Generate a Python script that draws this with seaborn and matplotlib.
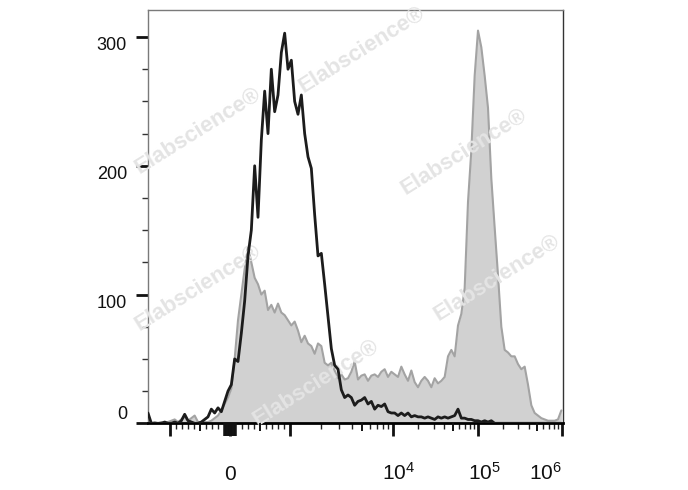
import numpy as np
import matplotlib
matplotlib.use("Agg")
import matplotlib.pyplot as plt
import seaborn as sns
import pandas as pd
from matplotlib.ticker import MultipleLocator
from matplotlib.transforms import ScaledTranslation

# ---------------- data (counts per display channel) ----------------
black_counts = [8, 0, 0, 0, 0, 1, 0, 0, 1, 0, 2, 7, 2, 1, 0, 0, 1, 3, 5, 11,
                8, 12, 9, 17, 25, 30, 50, 48, 70, 95, 130, 150, 200, 160, 220, 258, 225, 275, 242, 255,
                288, 303, 275, 282, 250, 240, 255, 225, 207, 198, 162, 130, 132, 108, 83, 58, 45, 42, 26, 20,
                22, 20, 14, 17, 18, 20, 15, 17, 11, 14, 13, 15, 9, 8, 8, 6, 8, 6, 8, 5,
                6, 5, 5, 4, 5, 4, 3, 5, 4, 5, 4, 5, 6, 11, 4, 4, 3, 3, 2, 2,
                1, 2, 1, 2, 0, 0, 0, 0, 0, 0, 0, 0, 0, 0, 0, 0, 0, 0, 0, 0,
                0, 0, 0, 0, 0]
grey_counts = [1, 0, 1, 0, 1, 0, 1, 2, 3, 1, 3, 5, 2, 4, 6, 1, 1, 1, 1, 2,
               4, 6, 10, 15, 20, 27, 50, 80, 100, 120, 137, 125, 113, 108, 100, 103, 88, 92, 86, 93,
               86, 84, 80, 76, 79, 72, 63, 68, 62, 60, 54, 62, 60, 47, 45, 47, 41, 35, 38, 34,
               35, 40, 48, 34, 37, 38, 33, 37, 38, 36, 40, 42, 36, 40, 38, 36, 44, 38, 33, 41,
               32, 28, 33, 36, 33, 28, 35, 31, 33, 36, 52, 57, 52, 76, 85, 105, 172, 212, 270, 305,
               292, 270, 245, 190, 152, 115, 75, 57, 55, 52, 52, 46, 42, 44, 30, 14, 8, 6, 4, 3,
               2, 2, 2, 3, 10]

x_major_values = [-1000, 0, 1000, 1e4, 1e5, 1e6]
x_major_labels = ["", "0", "", r"$\mathregular{10^{4}}$", r"$\mathregular{10^{5}}$", r"$\mathregular{10^{6}}$"]
x_medium_values = [-500, 500, 5e3, 5e4, 5e5]
x_cluster_values = [-100, -90, -80, -70, -60, -50, -40, -30, -20, -10,
                    10, 20, 30, 40, 50, 60, 70, 80, 90, 100]
x_minor_values = ([-m * 100 for m in (2, 3, 4, 6, 7, 8, 9)] + [m * 100 for m in (2, 3, 4, 6, 7, 8, 9)]
                  + [m * 10 ** e for e in (3, 4, 5) for m in (2, 3, 4, 6, 7, 8, 9)])
y_major_values = [0, 100, 200, 300]
y_major_labels = ["0", "100", "200", "300"]
watermark_text = "Elabscience®"

# ---------------- biexponential-like display scale ----------------
LIN_LIM = 1000.0
LIN_W = 60.35
DEC_L = [3, 4, 5, 6, 7]
DEC_P = [60.35, 162.7, 248.3, 331.7, 415.1]


def fwd(v):
    v = np.asarray(v, dtype=float)
    a = np.abs(v)
    lg = np.log10(np.maximum(a, LIN_LIM))
    return np.where(a <= LIN_LIM, v * LIN_W / LIN_LIM, np.sign(v) * np.interp(lg, DEC_L, DEC_P))


def inv(p):
    p = np.asarray(p, dtype=float)
    a = np.abs(p)
    return np.where(a <= LIN_W, p * LIN_LIM / LIN_W, np.sign(p) * 10 ** np.interp(a, DEC_P, DEC_L))


# display channels, equally spaced in display space
n = len(black_counts)
channels = -82 + np.arange(n) * (10.0 / 3.0)
x_vals = inv(channels)
df = pd.DataFrame({"x": x_vals, "black": black_counts, "grey": grey_counts})

# ---------------- figure ----------------
sns.set_theme(style="ticks")
plt.rcParams["font.family"] = ["Liberation Sans", "DejaVu Sans"]
plt.rcParams["mathtext.fontset"] = "custom"
plt.rcParams["mathtext.rm"] = "Liberation Sans"

fig = plt.figure(figsize=(6.88, 4.9), dpi=100)
ax = fig.add_axes([148 / 688, 1 - 423.3 / 490, 415 / 688, 413.3 / 490])
ax.set_xscale("function", functions=(fwd, inv))
xlim = (float(inv(-82)), float(inv(333)))
ax.set_xlim(*xlim)
ax.set_ylim(0, 321)

ax.fill_between(df["x"], df["grey"], color="#d1d1d1", lw=0, zorder=1)
sns.lineplot(data=df, x="x", y="grey", color="#a3a3a3", lw=1.5, estimator=None, ax=ax, zorder=2)
sns.lineplot(data=df, x="x", y="black", color="#1c1c1c", lw=2.0, estimator=None, ax=ax, zorder=4)
ax.set_xlabel("")
ax.set_ylabel("")

# watermarks
wm_pos = [(0.120, 0.707), (0.516, 0.903), (0.761, 0.656), (0.120, 0.327), (0.841, 0.351), (0.405, 0.097)]
for (wx, wy) in wm_pos:
    ax.text(wx, wy, watermark_text, transform=ax.transAxes, rotation=32, ha="center", va="center",
            fontsize=16, fontweight="bold", color="#e4e4e4", zorder=3, clip_on=False)

# spines
for s, c, w in (("left", "#7a7a7a", 1.0), ("top", "#7a7a7a", 1.0), ("right", "#333333", 1.0),
                ("bottom", "#000000", 2.0)):
    ax.spines[s].set_color(c)
    ax.spines[s].set_linewidth(w)
    ax.spines[s].set_visible(True)

# medium and near-zero ticks on a twin axis (shares y)
ax2 = ax.twiny()
ax2.set_xscale("function", functions=(fwd, inv))
ax2.set_xlim(*xlim)
ax2.xaxis.set_ticks_position("bottom")
for s in ax2.spines.values():
    s.set_visible(False)
ax2.set_xticks(x_medium_values, [""] * len(x_medium_values))
ax2.set_xticks(x_cluster_values, [""] * len(x_cluster_values), minor=True)
ax2.tick_params(axis="x", which="major", length=6.0, width=1.4, color="#111111", direction="out")
ax2.tick_params(axis="x", which="minor", length=9.4, width=1.1, color="#111111", direction="out")

# y ticks
ax.set_yticks(y_major_values, y_major_labels)
ax.yaxis.set_minor_locator(MultipleLocator(25))
ax.tick_params(axis="y", which="major", length=8.6, width=2.0, color="#111111", labelsize=13, pad=6.5,
               direction="out", labelcolor="#111111", left=True, labelleft=True)
ax.tick_params(axis="y", which="minor", length=4.0, width=1.0, color="#333333", direction="out")
for lab, val in zip(ax.get_yticklabels(), y_major_values):
    lab.set_verticalalignment("bottom" if val == 0 else "top")

# x ticks
ax.set_xticks(x_major_values, x_major_labels)
ax.set_xticks(x_minor_values, minor=True)
ax.tick_params(axis="x", which="major", length=9.4, width=2.0, color="#111111", labelsize=15,
               pad=31.5, direction="out", labelcolor="#111111")
ax.tick_params(axis="x", which="minor", length=4.3, width=1.0, color="#222222", direction="out")
for lab, val in zip(ax.get_xticklabels(), x_major_values):
    lab.set_verticalalignment("baseline")
    if val == 1e6:
        lab.set_horizontalalignment("right")
    elif val in (1e4, 1e5):
        lab.set_transform(lab.get_transform() + ScaledTranslation(0.06, 0, fig.dpi_scale_trans))

fig.savefig("out.png", dpi=100)
